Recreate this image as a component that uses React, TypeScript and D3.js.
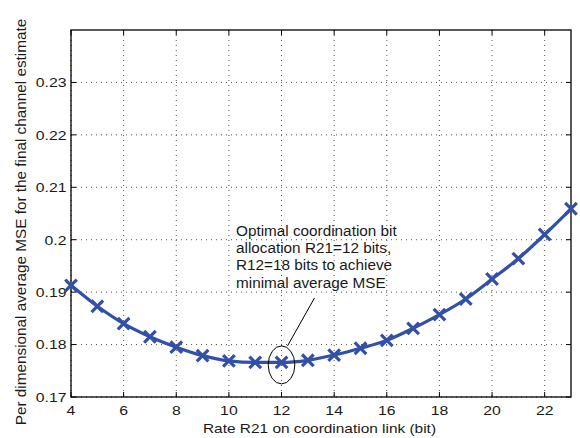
import React from "react";
import * as d3 from "d3";

const rates = [4, 5, 6, 7, 8, 9, 10, 11, 12, 13, 14, 15, 16, 17, 18, 19, 20, 21, 22, 23];
const mse = [0.1913, 0.1873, 0.1840, 0.1815, 0.1795, 0.1779, 0.1769, 0.1766, 0.1766, 0.1770, 0.1780, 0.1793, 0.1808, 0.1831, 0.1857, 0.1887, 0.1925, 0.1964, 0.2010, 0.2059];
const xTicks = [4, 6, 8, 10, 12, 14, 16, 18, 20, 22];
const yTicks = [0.17, 0.18, 0.19, 0.2, 0.21, 0.22, 0.23];
const yTickLabels = ["0.17", "0.18", "0.19", "0.2", "0.21", "0.22", "0.23"];
const annotationLines = [
  "Optimal coordination bit",
  "allocation R21=12 bits,",
  "R12=18 bits to achieve",
  "minimal average MSE",
];
const xLabel = "Rate R21 on coordination link (bit)";
const yLabel = "Per dimensional average MSE for the final channel estimate";
const optimalRate = 12;

function SText(props: { x: number; y: number; sx: number; size: number; anchor?: string; children: any }) {
  return (
    <text
      transform={`translate(${props.x},${props.y}) scale(${props.sx},1)`}
      fontSize={props.size}
      textAnchor={props.anchor || "start"}
    >
      {props.children}
    </text>
  );
}

export default function App() {
  const W = 580, H = 438;
  const L = 71, R = 571, T = 30, B = 397;
  const x = d3.scaleLinear().domain([4, 23]).range([L, R]);
  const y = d3.scaleLinear().domain([0.17, 0.24]).range([B, T]);
  const line = d3.line<number>().x((_, i) => x(rates[i])).y((d) => y(d)).curve(d3.curveMonotoneX);
  const font = "'Liberation Sans', Arial, sans-serif";
  const blue = "#3350a8";
  const tick = 5;
  const optIdx = rates.indexOf(optimalRate);
  const ex = x(optimalRate), ey = y(mse[optIdx]) + 0.5;
  const m = 5.8;
  return (
    <svg width={W} height={H} style={{ position: "absolute", left: 0, top: 0 }} fontFamily={font} fill="#1a1a1a">
      <rect x={0} y={0} width={W} height={H} fill="#fff" />
      {/* grid */}
      {xTicks.map((t) => (
        <line key={"gx" + t} x1={x(t)} x2={x(t)} y1={T} y2={B} stroke="#555" strokeWidth={1} strokeDasharray="1,4" />
      ))}
      {yTicks.map((t) => (
        <line key={"gy" + t} x1={L} x2={R} y1={y(t)} y2={y(t)} stroke="#555" strokeWidth={1} strokeDasharray="1,4" />
      ))}
      {/* ticks */}
      {xTicks.map((t) => (
        <g key={"tx" + t}>
          <line x1={x(t)} x2={x(t)} y1={B} y2={B - tick} stroke="#000" />
          <line x1={x(t)} x2={x(t)} y1={T} y2={T + tick} stroke="#000" />
          <SText x={x(t)} y={415} sx={1.17} size={13.5} anchor="middle">{t}</SText>
        </g>
      ))}
      {yTicks.map((t, i) => (
        <g key={"ty" + t}>
          <line x1={L} x2={L + tick} y1={y(t)} y2={y(t)} stroke="#000" />
          <line x1={R} x2={R - tick} y1={y(t)} y2={y(t)} stroke="#000" />
          <SText x={L - 4.5} y={y(t) + 4.8} sx={1.17} size={13.5} anchor="end">{yTickLabels[i]}</SText>
        </g>
      ))}
      <rect x={L} y={T} width={R - L} height={B - T} fill="none" stroke="#000" strokeWidth={1.3} />
      {/* data */}
      <path d={line(mse) || ""} fill="none" stroke={blue} strokeWidth={3.2} />
      {mse.map((v, i) => (
        <path key={"m" + i} d={`M${x(rates[i]) - m},${y(v) - m}L${x(rates[i]) + m},${y(v) + m}M${x(rates[i]) - m},${y(v) + m}L${x(rates[i]) + m},${y(v) - m}`} stroke={blue} strokeWidth={3.2} fill="none" />
      ))}
      {/* annotation */}
      <ellipse cx={ex} cy={ey + 2} rx={13.3} ry={19} fill="none" stroke="#000" strokeWidth={1} />
      <line x1={ex + 6} x2={ex + 33} y1={ey - 17} y2={ey - 65} stroke="#000" strokeWidth={1} />
      {annotationLines.map((s, i) => (
        <text key={"a" + i} x={236} y={236 + i * 17.2} fontSize={15.3}>{s}</text>
      ))}
      {/* labels */}
      <SText x={(L + R) / 2 - 1.5} y={432.5} sx={1.16} size={13.3} anchor="middle">{xLabel}</SText>
      <text transform={`translate(26,222) rotate(-90)`} fontSize={15.3} textAnchor="middle">{yLabel}</text>
    </svg>
  );
}
